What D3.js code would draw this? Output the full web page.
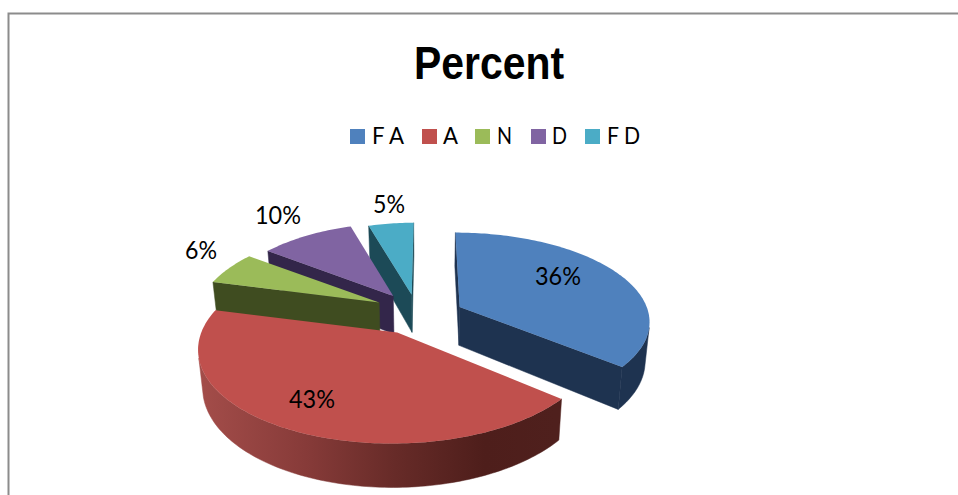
<!DOCTYPE html>
<html><head><meta charset="utf-8">
<script src="https://cdn.jsdelivr.net/npm/d3@7/dist/d3.min.js"></script>
<style>html,body{margin:0;background:#fff;overflow:hidden}svg{display:block}</style>
</head><body><svg id="c" width="958" height="495"></svg>
<script>
const categories = ["F A", "A", "N", "D", "F D"];
const percents = [36, 43, 6, 10, 5];
const topColors = ["#4f81bd", "#c0504d", "#9bbb59", "#8064a2", "#4bacc6"];
const wallColors = ["#1e3350", "url(#redWall)", "#3f4c20", "#33264a", "#1c4a57"];
const radialWallColors = ["#1e3350", "#4f201d", "#3f4c20", "#33264a", "#1c4a57"];

// layout
const W = 958, H = 495;
const VP = {x: 427, y: -271}, planeH = 587, persp = 0.15;
const Xc = -9, R = 190, xShrink = 0.98;
const sliceThick = [39, 36, 39, 39, 39];
const sliceExplode = [0.245, 0.23, 0.23, 0.23, 0.23];
const sliceXScale = [1, 1, 0.96, 0.93, 0.9];
const sliceLift = [0, 2, 5, 4, 2];
const legendSwatchX = [350, 422, 475, 531, 585];
const legendTextX = [372, 443, 497, 552, 607];
const legendTextW = [32, 15, 15, 15, 33];
const labelAt = [[558, 285], [312, 408], [201, 259], [278, 224], [389, 213]];
const labelW = [46, 46, 32, 46, 32];

const svg = d3.select("#c");
const grad = svg.append("defs").append("linearGradient").attr("id", "redWall")
  .attr("gradientUnits", "userSpaceOnUse").attr("x1", 198).attr("x2", 556).attr("y1", 0).attr("y2", 0);
[[0, "#a44d4a"], [0.3, "#873b39"], [0.55, "#672b28"], [0.8, "#4e1e1b"], [1, "#4f201d"]]
  .forEach(([o, c]) => grad.append("stop").attr("offset", o).attr("stop-color", c));

svg.append("path").attr("d", `M8.5,${H}V13.5H${W}`).attr("fill", "none").attr("stroke", "#8c8c8c").attr("stroke-width", 2);

function project(p, low) {
  const s = 1 / (1 + persp * p.Y);
  const x = VP.x + (Xc + p.X * R) * s;
  const y = VP.y + (planeH + (low ? p.thick : 0)) * s - p.lift;
  return low ? [VP.x + (x - VP.x) * xShrink, y] : [x, y];
}
const pie = d3.pie().sort(null)(percents);

const slices = pie.map((d, i) => {
  const mid = (d.startAngle + d.endAngle) / 2;
  const ox = Math.sin(mid) * sliceExplode[i], oy = Math.cos(mid) * sliceExplode[i];
  const lift = sliceLift[i], thick = sliceThick[i];
  const apex = {X: ox, Y: oy, lift, thick};
  const n = Math.max(8, Math.ceil((d.endAngle - d.startAngle) / 0.02));
  const rim = d3.range(n + 1).map(k => {
    const a = d.startAngle + (d.endAngle - d.startAngle) * k / n;
    return {X: ox + Math.sin(a) * sliceXScale[i], Y: oy + Math.cos(a), lift, thick};
  });
  return {i, apex, rim};
}).sort((p, q) => project(p.apex)[1] - project(q.apex)[1]);

const line = d3.line();
const g = svg.append("g");
const facing = (a, b) => d3.polygonArea([project(a), project(b), project(b, true), project(a, true)]) > 0;
function wall(pts, col) {
  const poly = [...pts.map(p => project(p)), ...pts.slice().reverse().map(p => project(p, true))];
  g.append("path").attr("d", line(poly) + "Z").attr("fill", col).attr("stroke", col).attr("stroke-width", 0.5);
}
slices.forEach(s => {
  const first = s.rim[0], last = s.rim[s.rim.length - 1];
  if (facing(s.apex, first)) wall([s.apex, first], radialWallColors[s.i]);
  if (facing(last, s.apex)) wall([last, s.apex], radialWallColors[s.i]);
  const run = s.rim.filter((p, k) => k < s.rim.length - 1 ? facing(p, s.rim[k + 1]) : facing(s.rim[k - 1], p));
  if (run.length > 1) wall(run, wallColors[s.i]);
  g.append("path").attr("d", line([s.apex, ...s.rim].map(p => project(p))) + "Z").attr("fill", topColors[s.i]);
});

svg.append("text").attr("x", 414).attr("y", 79)
  .attr("font-family", "'Liberation Sans',sans-serif")
  .attr("font-weight", "bold").attr("font-size", 47).attr("fill", "#000")
  .attr("textLength", 150).attr("lengthAdjust", "spacingAndGlyphs").text("Percent");

categories.forEach((c, i) => {
  svg.append("rect").attr("x", legendSwatchX[i]).attr("y", 129).attr("width", 15).attr("height", 15).attr("fill", topColors[i]);
  svg.append("text").attr("x", legendTextX[i]).attr("y", 144)
    .attr("font-family", "Lato,sans-serif")
    .attr("font-size", 24).attr("fill", "#000")
    .attr("textLength", legendTextW[i]).attr("lengthAdjust", "spacingAndGlyphs").text(c);
});
percents.forEach((v, i) => {
  svg.append("text").attr("x", labelAt[i][0] - labelW[i] / 2).attr("y", labelAt[i][1])
    .attr("font-family", "Lato,sans-serif")
    .attr("font-size", 25).attr("fill", "#000")
    .attr("textLength", labelW[i]).attr("lengthAdjust", "spacingAndGlyphs").text(v + "%");
});
</script></body></html>
